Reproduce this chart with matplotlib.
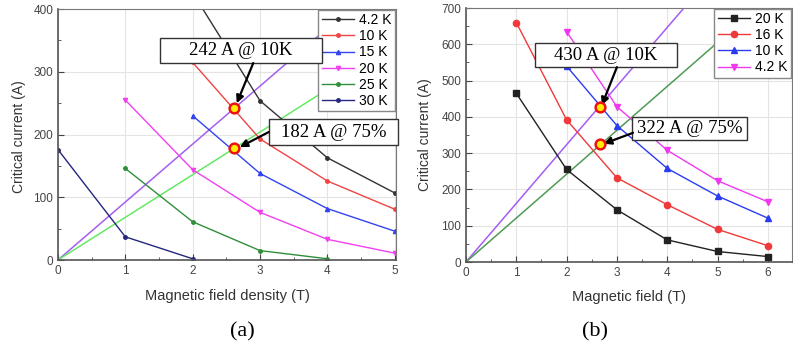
import numpy as np
import matplotlib.pyplot as plt
from matplotlib.patches import Rectangle
from matplotlib.ticker import MultipleLocator

plt.rcParams['font.family'] = ['Liberation Sans', 'DejaVu Sans']

# (a) critical current vs field density
fa_42k = [2, 3, 4, 5]
ica_42k = [426, 254, 163, 107]
fa_10k = [2, 3, 4, 5]
ica_10k = [315, 193, 126, 81]
fa_15k = [2, 3, 4, 5]
ica_15k = [230, 138, 82, 46]
fa_20k = [1, 2, 3, 4, 5]
ica_20k = [255, 144, 76, 33, 11]
fa_25k = [1, 2, 3, 4]
ica_25k = [146, 61, 15, 2]
fa_30k = [0, 1, 2]
ica_30k = [176, 37, 2]
load_xa = [0, 5]
load_a_full = [0, 462]
load_a_75 = [0, 340]
op_a_x = [2.62, 2.62]
op_a_y = [242, 178]

# (b) critical current vs field
fb = [1, 2, 3, 4, 5, 6]
icb_20k = [465, 255, 144, 61, 29, 15]
icb_16k = [660, 392, 232, 158, 90, 45]
fb_10k = [2, 3, 4, 5, 6]
icb_10k = [540, 376, 258, 182, 121]
fb_42k = [2, 3, 4, 5, 6]
icb_42k = [635, 428, 308, 224, 166]
load_xb = [0, 5]
load_b_full = [0, 808]
load_b_75 = [0, 605]
op_b_x = [2.67, 2.67]
op_b_y = [428, 326]

fig = plt.figure(figsize=(7.93, 3.5), dpi=100)
ax1 = fig.add_axes([0.0731, 0.2571, 0.4263, 0.7169])
ax2 = fig.add_axes([0.5876, 0.2514, 0.4111, 0.7257])

serif = ['Liberation Serif', 'DejaVu Serif']


def style(ax, xmax, ymax, ystep):
    ax.set_xlim(0, xmax)
    ax.set_ylim(0, ymax)
    ax.xaxis.set_major_locator(MultipleLocator(1))
    ax.xaxis.set_minor_locator(MultipleLocator(0.5))
    ax.yaxis.set_major_locator(MultipleLocator(ystep))
    ax.yaxis.set_minor_locator(MultipleLocator(ystep / 2))
    ax.tick_params(which='both', direction='in', labelsize=8.5, colors='#444444')
    ax.tick_params(which='major', length=4)
    ax.tick_params(which='minor', length=2.5)
    ax.grid(True, color='#e4e4e4', lw=0.8)
    ax.set_axisbelow(True)
    for s in ax.spines.values():
        s.set_color('#777777')
        s.set_linewidth(0.8)
    ax.spines['left'].set_color('#555555')
    ax.spines['bottom'].set_color('#555555')
    ax.spines['left'].set_linewidth(1.2)
    ax.spines['bottom'].set_linewidth(1.2)
    ax.set_ylabel('Critical current (A)', fontsize=10, color='#333333')


def callout(ax, text, box, xy, start):
    (x0, y0), (x1, y1) = box
    ax.add_patch(Rectangle((x0, y0), x1 - x0, y1 - y0, facecolor='white',
                           edgecolor='#333333', lw=1, zorder=6, clip_on=False))
    ax.text((x0 + x1) / 2, (y0 + y1) / 2, text, ha='center', va='center',
            fontsize=13.5, family=serif, zorder=7, clip_on=False)
    ax.annotate('', xy=xy, xytext=start, zorder=8,
                arrowprops=dict(arrowstyle='-|>', color='black', lw=1.6,
                                mutation_scale=11, shrinkA=0, shrinkB=0))


def legend(ax):
    leg = ax.legend(loc='upper right', fontsize=10, frameon=True, fancybox=False,
                    framealpha=1, edgecolor='#888888', handlelength=2.3,
                    labelspacing=0.15, borderaxespad=0.05, handletextpad=0.4,
                    borderpad=0.25)
    leg.set_zorder(5)


# ---- (a)
lw = 1.0
ax1.plot(load_xa, load_a_full, color='#a45ef0', lw=1.1, zorder=2)
ax1.plot(load_xa, load_a_75, color='#66e866', lw=1.1, zorder=2)
ax1.plot(fa_42k, ica_42k, '-o', color='#333333', ms=2.5, lw=lw, label='4.2 K')
ax1.plot(fa_10k, ica_10k, '-o', color='#f04444', ms=2.5, lw=lw, label='10 K')
ax1.plot(fa_15k, ica_15k, '-^', color='#3344ee', ms=3, lw=lw, label='15 K')
ax1.plot(fa_20k, ica_20k, '-v', color='#f040f0', ms=3, lw=lw, label='20 K')
ax1.plot(fa_25k, ica_25k, '-o', color='#2f8f3a', ms=2.5, lw=lw, label='25 K')
ax1.plot(fa_30k, ica_30k, '-o', color='#262680', ms=2.5, lw=lw, label='30 K')
ax1.plot(op_a_x, op_a_y, 'o', ms=7, mfc='#ffee00', mec='#ee1111', mew=1.8, zorder=9)
style(ax1, 5.02, 400, 100)
ax1.set_xlabel('Magnetic field density (T)', fontsize=10.5, color='#333333')
ax1.xaxis.set_label_coords(0.5, -0.115)
ax1.yaxis.set_label_coords(-0.095, 0.49)
legend(ax1)
callout(ax1, '242 A @ 10K', ((1.515, 314), (3.92, 354)), (2.655, 250), (2.90, 314))
callout(ax1, '182 A @ 75%', ((3.135, 183), (5.05, 225)), (2.70, 180), (3.13, 204))

# ---- (b)
ax2.plot(load_xb, load_b_full, color='#a45ef0', lw=1.1, zorder=2)
ax2.plot(load_xb, load_b_75, color='#4f9a55', lw=1.1, zorder=2)
ax2.plot(fb, icb_20k, '-s', color='#222222', ms=4, lw=lw, label='20 K')
ax2.plot(fb, icb_16k, '-o', color='#f03a3a', ms=4.5, lw=lw, label='16 K')
ax2.plot(fb_10k, icb_10k, '-^', color='#2a3cf0', ms=5, lw=lw, label='10 K')
ax2.plot(fb_42k, icb_42k, '-v', color='#f038f0', ms=5, lw=lw, label='4.2 K')
ax2.plot(op_b_x, op_b_y, 'o', ms=7, mfc='#ffee00', mec='#ee1111', mew=1.8, zorder=9)
style(ax2, 6.48, 700, 100)
ax2.set_xlabel('Magnetic field (T)', fontsize=10.5, color='#333333')
ax2.xaxis.set_label_coords(0.5, -0.11)
ax2.yaxis.set_label_coords(-0.105, 0.5)
legend(ax2)
callout(ax2, '430 A @ 10K', ((1.37, 537), (4.19, 603)), (2.70, 432), (3.0, 537))
callout(ax2, '322 A @ 75%', ((3.30, 336), (5.58, 400)), (2.74, 326), (3.32, 356))

fig.text(242 / 793, 1 - 332 / 350, '(a)', ha='center', va='center',
         fontsize=16, family=serif)
fig.text(595 / 793, 1 - 332 / 350, '(b)', ha='center', va='center',
         fontsize=16, family=serif)

fig.savefig('out.png', dpi=100)
